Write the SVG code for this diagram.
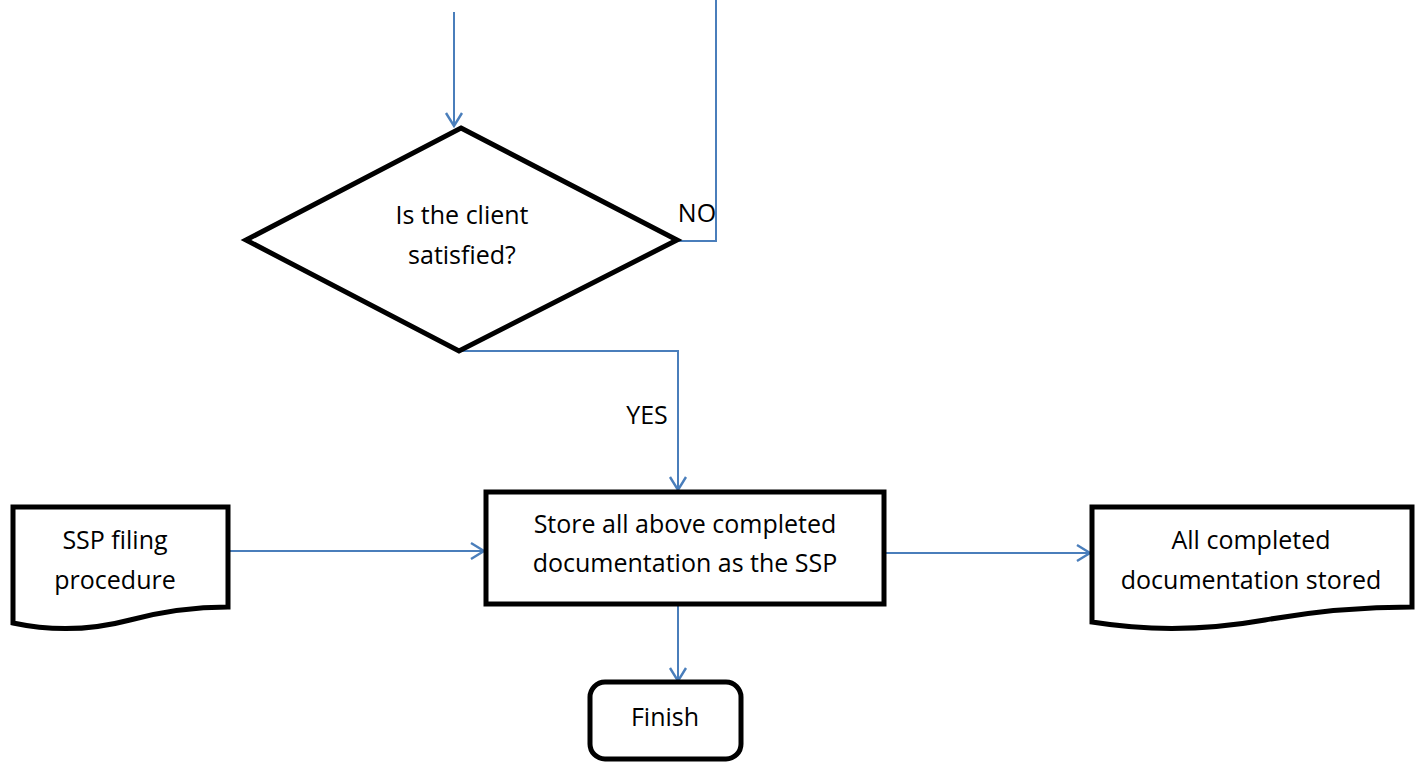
<svg xmlns="http://www.w3.org/2000/svg" width="1423" height="762" viewBox="0 0 1423 762">
<defs>
<marker id="arr" markerWidth="20" markerHeight="20" refX="16" refY="10" orient="auto" markerUnits="userSpaceOnUse">
<path d="M3,2 L16,10 L3,18" fill="none" stroke="#4a7ebb" stroke-width="2.4"/>
</marker>
<style>
.shape{fill:#fff;stroke:#000;stroke-width:5;stroke-linejoin:miter}
.conn{fill:none;stroke:#4a7ebb;stroke-width:2}
text{font-family:"Open Sans","Liberation Sans",sans-serif;font-size:25px;fill:#000;text-anchor:middle}
</style>
</defs>
<rect width="1423" height="762" fill="#fff"/>
<g id="connectors">
<line class="conn" x1="454" y1="12" x2="454" y2="126" marker-end="url(#arr)"/>
<polyline class="conn" points="677,241 716,241 716,0"/>
<polyline class="conn" points="459,351 678,351 678,490" marker-end="url(#arr)"/>
<line class="conn" x1="228" y1="551" x2="484" y2="551" marker-end="url(#arr)"/>
<line class="conn" x1="884" y1="553" x2="1090" y2="553" marker-end="url(#arr)"/>
<line class="conn" x1="678" y1="604" x2="678" y2="681" marker-end="url(#arr)"/>
<text x="697" y="222">NO</text>
<text x="647" y="424">YES</text>
</g>
<g id="decision">
<polygon class="shape" points="461,128 677,240 459,351 246,240"/>
<text x="462" y="224">Is the client</text>
<text x="462" y="264">satisfied?</text>
</g>
<g id="store">
<rect class="shape" x="486" y="492" width="398" height="112"/>
<text x="685" y="533">Store all above completed</text>
<text x="685" y="572">documentation as the SSP</text>
</g>
<g id="ssp-filing">
<path class="shape" d="M13,507 L228,507 L228,607 C190,607 160,612 130,620 C100,628 60,633 13,623 Z"/>
<text x="115" y="549">SSP filing</text>
<text x="115" y="589">procedure</text>
</g>
<g id="stored">
<path class="shape" d="M1092,507 L1412,507 L1412,607 C1355,607 1310,612 1265,620 C1220,628 1160,633 1092,622 Z"/>
<text x="1251" y="549">All completed</text>
<text x="1251" y="589">documentation stored</text>
</g>
<g id="finish">
<rect class="shape" x="590" y="682" width="151" height="77" rx="15" ry="15"/>
<text x="665" y="726">Finish</text>
</g>
</svg>
